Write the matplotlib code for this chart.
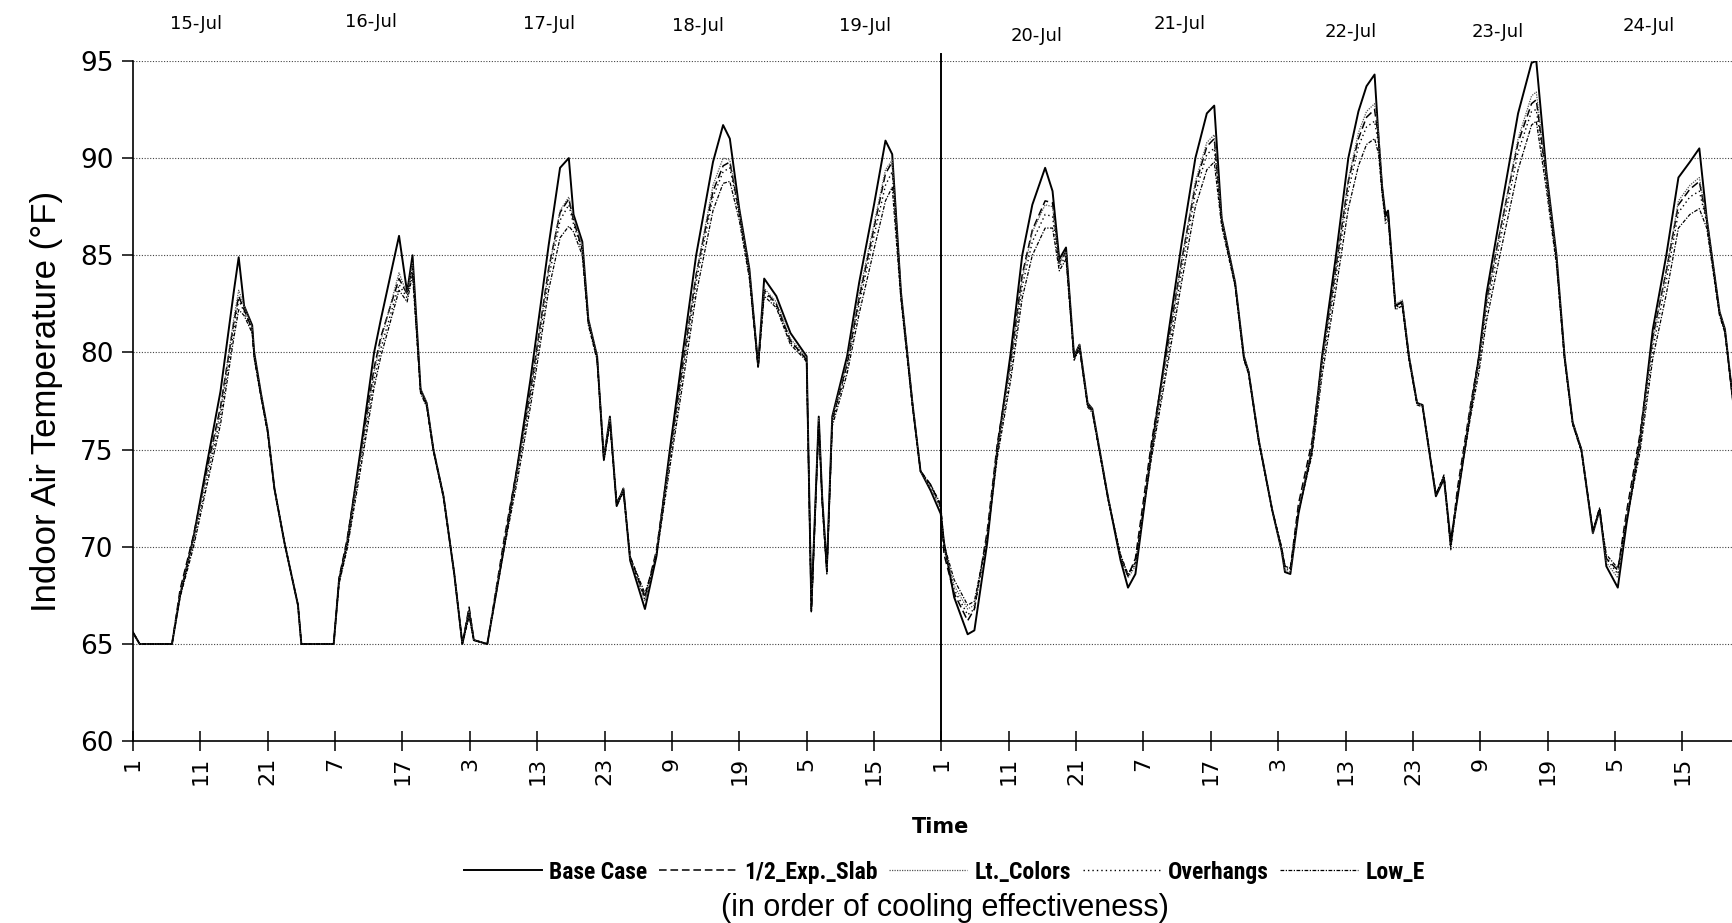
import matplotlib
matplotlib.use("Agg")
import matplotlib.pyplot as plt
from matplotlib import font_manager

# ---------------- data ----------------
hours = [
    1, 2, 6.8, 8, 10, 12, 14, 16, 16.7, 17.5, 18.7, 19, 20, 21, 22, 23.5, 25.5, 26,
    30.8, 31.6, 32.8, 34.8, 36.8, 37.8, 40.5, 41.7, 42.5, 43.7, 44.6, 45.6, 47.1, 48.7, 49.9, 50.9, 51.6, 53.6,
    56.1, 58, 60, 61.5, 62.7, 64.4, 65.7, 66.4, 67.7, 68.6, 69.9, 70.9, 71.8, 72.8, 73.8, 74.8, 77.0,
    78.7, 80.7, 82.7, 84.6, 87.1, 88.6, 89.6, 91.0, 92.5, 93.8, 94.7, 96.5, 98.6, 100.6, 101.0, 101.7, 102.8, 103.3, 104.0,
    104.8, 107.0, 108.8, 111.0, 112.7, 113.7, 115.0, 116.7, 117.9, 119.4, 120.9,
    121.4, 122.9, 124.9, 125.9, 127.8, 129.3, 131.3, 133.0, 134.5, 136.4, 137.5, 138.5, 139.5, 140.7, 141.5, 142.7, 143.4, 145.7, 147.6,
    148.7, 149.8, 152.2, 154.7, 156.7, 158.7, 160.4, 161.5, 162.6, 164.6, 165.9, 166.6, 168.1, 170.1, 171.5, 172.0, 172.8,
    174.0, 176.0, 177.5, 179.5, 181.4, 182.9, 184.1, 185.3, 185.9, 186.4, 186.9, 187.3, 188.4, 189.4, 190.4, 191.6, 192.4, 194.4, 195.6, 196.6,
    197.6, 199.5, 200.8, 201.9, 203.9, 206.6, 208.6, 209.3, 210.8, 212.3, 213.5, 214.7, 216.0, 217.7, 218.7, 219.2, 219.7, 221.4,
    222.7, 224.7, 226.6, 228.6, 230.4, 232.1, 233.5, 234.6, 236.5, 237.3, 238.5,
]

base_case = [
    65.6, 65.0, 65.0, 67.5, 70.5, 74.3, 78.0, 83.2, 84.9, 82.4, 81.4, 80.0, 77.9, 76.0, 73.0, 70.2, 67.0, 65.0,
    65.0, 68.3, 70.2, 75.0, 80.0, 81.7, 86.0, 83.1, 85.0, 78.1, 77.4, 75.0, 72.6, 68.6, 65.0, 66.7, 65.2, 65.0,
    70.0, 74.0, 78.6, 82.4, 85.5, 89.5, 90.0, 87.1, 85.7, 81.7, 79.8, 74.5, 76.7, 72.1, 73.0, 69.3, 66.8,
    69.5, 75.0, 80.2, 85.0, 89.8, 91.7, 91.0, 87.4, 84.3, 79.3, 83.8, 82.9, 81.0, 80.0, 79.8, 66.9, 76.7, 72.6, 68.9,
    76.7, 79.8, 83.6, 87.6, 90.9, 90.2, 83.1, 77.4, 73.9, 72.9, 71.7,
    70.2, 67.4, 65.5, 65.7, 70.2, 75.0, 80.0, 85.0, 87.6, 89.5, 88.3, 84.8, 85.4, 79.8, 80.4, 77.4, 77.1, 72.6, 69.3,
    67.9, 68.6, 75.0, 81.0, 85.7, 90.0, 92.3, 92.7, 86.9, 83.6, 79.8, 79.0, 75.5, 71.9, 69.8, 68.7, 68.6,
    71.7, 75.0, 79.8, 84.8, 90.0, 92.4, 93.7, 94.3, 91.0, 88.6, 87.1, 87.3, 82.4, 82.6, 79.8, 77.4, 77.3, 72.6, 73.5, 70.3,
    72.5, 76.9, 79.8, 83.0, 87.0, 92.3, 94.9, 95.0, 89.3, 85.0, 79.8, 76.4, 75.0, 70.7, 71.9, 70.5, 69.0, 67.9,
    71.2, 75.5, 81.2, 85.0, 89.0, 89.8, 90.5, 86.9, 82.1, 81.2, 77.5,
]

half_exp_slab = [
    65.6, 65.0, 65.0, 67.8, 70.6, 74.0, 77.2, 81.6, 82.9, 82.2, 81.2, 79.8, 77.8, 75.9, 73.0, 70.2, 67.0, 65.0,
    65.0, 68.4, 70.4, 74.8, 79.2, 80.8, 83.8, 83.0, 84.5, 78.0, 77.3, 75.0, 72.6, 68.6, 65.0, 66.9, 65.2, 65.0,
    70.4, 74.0, 78.0, 81.5, 84.3, 87.2, 87.9, 86.8, 85.3, 81.6, 79.7, 74.6, 76.5, 72.3, 72.9, 69.5, 67.4,
    69.8, 74.8, 79.6, 84.0, 88.3, 89.6, 89.8, 87.2, 84.1, 79.3, 83.2, 82.5, 80.6, 79.8, 79.6, 66.7, 76.5, 72.4, 68.7,
    76.5, 79.4, 82.8, 86.4, 89.2, 89.8, 83.0, 77.4, 73.9, 73.2, 72.1,
    69.6, 67.6, 66.2, 66.8, 70.8, 75.3, 79.6, 84.0, 86.3, 87.8, 87.7, 84.6, 85.2, 79.7, 80.3, 77.3, 77.0, 72.6, 69.4,
    68.5, 69.4, 75.4, 80.6, 84.8, 88.6, 90.6, 91.0, 86.8, 83.5, 79.7, 79.0, 75.5, 71.9, 69.9, 69.0, 68.9,
    72.2, 75.4, 79.6, 84.2, 88.8, 91.0, 92.1, 92.5, 91.0, 88.5, 87.0, 87.2, 82.4, 82.6, 79.8, 77.4, 77.3, 72.7, 73.6, 70.0,
    73.0, 77.2, 79.8, 82.6, 86.2, 90.8, 92.8, 93.0, 89.0, 84.8, 79.7, 76.4, 75.0, 70.8, 72.0, 70.6, 69.4, 68.8,
    71.8, 75.8, 80.8, 84.2, 87.6, 88.4, 88.8, 86.8, 82.0, 81.1, 77.5,
]

lt_colors = [
    65.6, 65.0, 65.0, 67.6, 70.4, 73.8, 77.0, 81.8, 83.2, 82.4, 81.3, 79.9, 77.9, 76.0, 73.0, 70.2, 67.0, 65.0,
    65.0, 68.2, 70.2, 74.6, 79.0, 80.6, 84.1, 83.0, 84.6, 78.1, 77.4, 75.0, 72.6, 68.6, 65.0, 66.7, 65.2, 65.0,
    70.2, 73.8, 77.9, 81.4, 84.2, 87.3, 88.0, 86.9, 85.5, 81.7, 79.8, 74.7, 76.6, 72.2, 73.0, 69.4, 67.2,
    69.7, 74.6, 79.4, 84.0, 88.6, 90.0, 89.9, 87.3, 84.2, 79.4, 83.3, 82.6, 80.7, 79.9, 79.7, 66.8, 76.6, 72.5, 68.8,
    76.6, 79.5, 83.0, 86.6, 89.4, 89.9, 83.1, 77.4, 73.9, 73.0, 71.9,
    70.0, 68.0, 66.8, 67.0, 70.6, 75.0, 79.4, 83.8, 86.2, 87.6, 87.5, 84.6, 85.2, 79.8, 80.4, 77.4, 77.1, 72.6, 69.5,
    68.4, 69.0, 75.0, 80.4, 84.8, 88.8, 90.8, 91.2, 86.9, 83.6, 79.8, 79.0, 75.5, 71.9, 69.8, 68.8, 68.7,
    71.9, 75.1, 79.5, 84.1, 88.9, 91.3, 92.4, 92.8, 91.3, 88.7, 86.6, 86.8, 82.5, 82.7, 79.8, 77.4, 77.3, 72.7, 73.6, 69.8,
    72.7, 77.0, 79.6, 82.5, 86.2, 91.0, 93.2, 93.4, 89.2, 84.9, 79.8, 76.4, 75.0, 70.7, 71.9, 70.5, 69.2, 68.4,
    71.5, 75.5, 80.6, 84.2, 87.8, 88.6, 89.0, 86.9, 82.1, 81.2, 77.5,
]

overhangs = [
    65.6, 65.0, 65.0, 67.5, 70.2, 73.5, 76.7, 81.2, 82.7, 82.1, 81.1, 79.8, 77.8, 75.9, 73.0, 70.2, 67.0, 65.0,
    65.0, 68.2, 70.0, 74.3, 78.6, 80.2, 83.5, 82.8, 84.3, 78.0, 77.3, 75.0, 72.6, 68.6, 65.0, 66.5, 65.2, 65.0,
    70.0, 73.6, 77.6, 81.0, 83.8, 86.8, 87.6, 86.6, 85.2, 81.5, 79.7, 74.5, 76.4, 72.2, 72.9, 69.4, 67.3,
    69.6, 74.4, 79.1, 83.6, 88.0, 89.3, 89.5, 87.1, 84.0, 79.3, 83.1, 82.4, 80.5, 79.8, 79.6, 66.7, 76.5, 72.4, 68.7,
    76.4, 79.2, 82.5, 86.0, 88.6, 89.3, 82.9, 77.3, 73.9, 73.1, 72.0,
    69.9, 67.8, 66.5, 66.8, 70.4, 74.8, 79.0, 83.4, 85.7, 87.1, 87.0, 84.4, 85.0, 79.7, 80.3, 77.3, 77.0, 72.5, 69.5,
    68.5, 69.1, 74.8, 80.0, 84.3, 88.2, 90.2, 90.5, 86.7, 83.5, 79.7, 78.9, 75.4, 71.9, 69.9, 68.9, 68.8,
    71.8, 74.9, 79.2, 83.7, 88.3, 90.6, 91.6, 91.9, 90.7, 88.4, 86.9, 87.1, 82.3, 82.5, 79.7, 77.4, 77.3, 72.7, 73.6, 69.9,
    72.6, 76.8, 79.4, 82.1, 85.7, 90.3, 92.4, 92.5, 88.8, 84.7, 79.7, 76.3, 74.9, 70.8, 71.9, 70.6, 69.4, 68.6,
    71.4, 75.2, 80.2, 83.7, 87.2, 88.0, 88.3, 86.7, 82.0, 81.1, 77.5,
]

low_e = [
    65.6, 65.0, 65.0, 67.4, 70.0, 73.2, 76.3, 80.8, 82.2, 81.9, 81.0, 79.7, 77.7, 75.9, 73.0, 70.2, 67.0, 65.0,
    65.0, 68.1, 69.9, 74.0, 78.2, 79.8, 83.2, 82.6, 84.0, 77.9, 77.2, 74.9, 72.5, 68.6, 65.0, 66.4, 65.2, 65.0,
    69.9, 73.3, 77.2, 80.5, 83.2, 85.9, 86.5, 86.2, 85.0, 81.4, 79.6, 74.4, 76.3, 72.1, 72.8, 69.5, 67.6,
    69.5, 74.1, 78.6, 83.0, 87.3, 88.7, 88.8, 86.8, 83.8, 79.2, 82.9, 82.3, 80.4, 79.7, 79.5, 66.6, 76.4, 72.3, 68.6,
    76.2, 78.9, 82.0, 85.3, 87.8, 88.5, 82.7, 77.2, 73.9, 73.2, 72.2,
    70.1, 68.3, 67.0, 67.2, 70.5, 74.6, 78.6, 82.8, 85.0, 86.4, 86.4, 84.2, 84.8, 79.6, 80.2, 77.2, 76.9, 72.5, 69.6,
    68.6, 69.2, 74.6, 79.6, 83.7, 87.5, 89.4, 89.8, 86.5, 83.4, 79.6, 78.9, 75.4, 71.9, 70.0, 69.0, 68.9,
    71.8, 74.7, 78.8, 83.1, 87.4, 89.6, 90.7, 91.0, 90.2, 88.2, 86.8, 87.0, 82.2, 82.4, 79.6, 77.3, 77.2, 72.7, 73.7, 70.0,
    72.6, 76.6, 79.0, 81.6, 85.0, 89.4, 91.7, 91.9, 88.4, 84.5, 79.6, 76.3, 74.9, 70.8, 72.0, 70.7, 69.6, 68.9,
    71.3, 74.9, 79.7, 83.0, 86.4, 87.1, 87.4, 86.4, 81.9, 81.0, 77.5,
]

series_names = ["Base Case", "1/2_Exp._Slab", "Lt._Colors", "Overhangs", "Low_E"]

tick_hours = list(range(1, 240, 10))
tick_labels = ["1", "11", "21", "7", "17", "3", "13", "23", "9", "19", "5", "15",
               "1", "11", "21", "7", "17", "3", "13", "23", "9", "19", "5", "15"]

day_labels = ["15-Jul", "16-Jul", "17-Jul", "18-Jul", "19-Jul",
              "20-Jul", "21-Jul", "22-Jul", "23-Jul", "24-Jul"]
day_label_hours = [10.3, 36.4, 62.8, 84.9, 109.7, 135.1, 156.4, 181.7, 203.6, 226.0]
day_label_temps = [96.9, 97.0, 96.9, 96.8, 96.8, 96.3, 96.9, 96.5, 96.5, 96.8]

y_ticks = [60, 65, 70, 75, 80, 85, 90, 95]

for s in (base_case, half_exp_slab, lt_colors, overhangs, low_e):
    assert len(s) == len(hours), len(s)

# ---------------- fonts ----------------
_available = {f.name for f in font_manager.fontManager.ttflist}
NARROW = None
for cand in ["Liberation Sans Narrow", "DejaVu Sans Condensed", "Roboto Condensed"]:
    if cand in _available:
        NARROW = cand
        break
LEG_FAMILY = [NARROW, "DejaVu Sans"] if NARROW else ["Liberation Sans", "DejaVu Sans"]
LEG_SIZE = 17 if NARROW else 15
SANS = ["Liberation Sans", "DejaVu Sans"]

# ---------------- plot ----------------
fig = plt.figure(figsize=(17.33, 9.23), dpi=100)
ax = fig.add_axes([0.0767, 0.197, 0.9233, 0.737])

styles = [
    dict(color="black", lw=1.4, ls="-"),
    dict(color="black", lw=1.1, ls=(0, (5, 2.5))),
    dict(color="#555555", lw=0.9, ls=(0, (1, 1))),
    dict(color="black", lw=1.0, ls=(0, (1, 2.2))),
    dict(color="black", lw=0.9, ls=(0, (3, 1.2, 1, 1.2))),
]
all_series = [base_case, half_exp_slab, lt_colors, overhangs, low_e]
handles = []
for name, data, st in zip(series_names, all_series, styles):
    ln, = ax.plot(hours, data, label=name, **st)
    handles.append(ln)

ax.set_xlim(1, 238.5)
ax.set_ylim(60, 95)

ax.axvline(121, color="black", lw=1.4, ymax=1.01, clip_on=False)

for yv in y_ticks[1:]:
    ax.axhline(yv, color="#444444", lw=0.8, ls=(0, (1, 1.5)), zorder=0)

ax.spines["top"].set_visible(False)
ax.spines["right"].set_visible(False)
ax.spines["left"].set_linewidth(1.2)
ax.spines["bottom"].set_linewidth(1.2)

ax.set_yticks(y_ticks)
ax.set_yticklabels([str(v) for v in y_ticks], fontsize=19, family="DejaVu Sans")
ax.tick_params(axis="y", direction="out", length=8, width=1.1, pad=6)

ax.set_xticks(tick_hours)
ax.set_xticklabels(tick_labels, rotation=90, fontsize=16, family="DejaVu Sans")
ax.tick_params(axis="x", direction="inout", length=14, width=1.1, pad=4)

ax.set_ylabel("Indoor Air Temperature (°F)", fontsize=25, family=SANS, labelpad=12)

for lab, hx, ty in zip(day_labels, day_label_hours, day_label_temps):
    ax.text(hx, ty, lab, ha="center", va="center", fontsize=13,
            family="DejaVu Sans", clip_on=False)

fig.text(0.543, 0.104, "Time", ha="center", va="center", fontsize=15,
         fontweight="bold", family="DejaVu Sans")

leg = fig.legend(handles=handles, labels=series_names, loc="center",
                 bbox_to_anchor=(0.545, 0.055), ncol=5, frameon=False,
                 handlelength=3.3, handletextpad=0.3, columnspacing=0.5,
                 prop=dict(family=LEG_FAMILY, size=LEG_SIZE, weight="bold"))

fig.text(0.545, 0.016, "(in order of cooling effectiveness)", ha="center",
         va="center", fontsize=22, family=SANS)

fig.savefig("out.png", dpi=100, facecolor="white")
